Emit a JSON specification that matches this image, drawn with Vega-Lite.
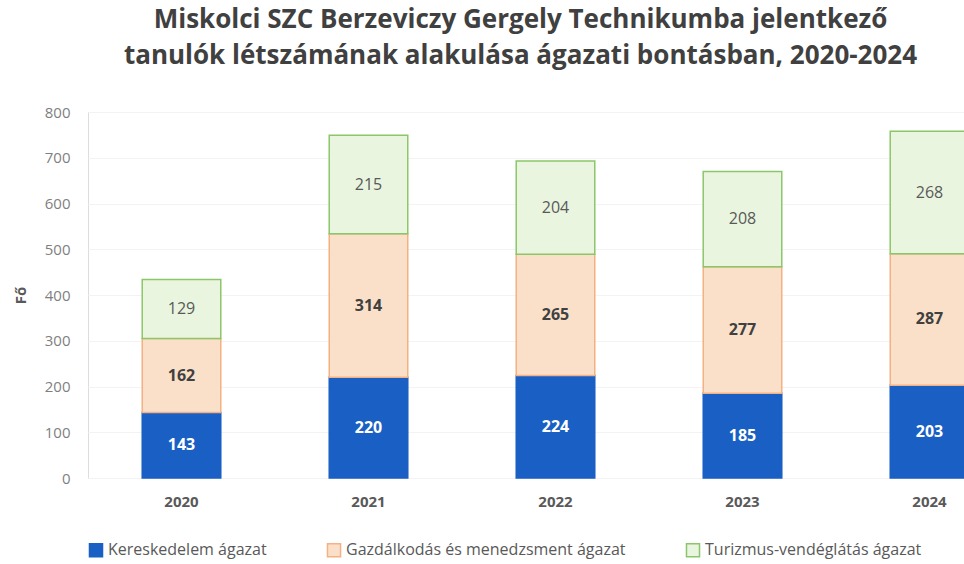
{
  "$schema": "https://vega.github.io/schema/vega-lite/v6.json",
  "width": 935,
  "height": 366,
  "autosize": {"type": "none"},
  "padding": {"left": 88, "top": 112, "right": 0, "bottom": 86},
  "background": "white",
  "title": {
    "text": ["Miskolci SZC Berzeviczy Gergely Technikumba jelentkező", "tanulók létszámának alakulása ágazati bontásban, 2020-2024"],
    "font": "Open Sans",
    "fontSize": 26,
    "fontWeight": "bold",
    "color": "#404040",
    "anchor": "middle",
    "dx": -35,
    "lineHeight": 36,
    "offset": 36
  },
  "data": {
    "values": [
      {"year": "2020", "sector": "Kereskedelem ágazat", "k": 1, "value": 143},
      {"year": "2020", "sector": "Gazdálkodás és menedzsment ágazat", "k": 2, "value": 162},
      {"year": "2020", "sector": "Turizmus-vendéglátás ágazat", "k": 3, "value": 129},
      {"year": "2021", "sector": "Kereskedelem ágazat", "k": 1, "value": 220},
      {"year": "2021", "sector": "Gazdálkodás és menedzsment ágazat", "k": 2, "value": 314},
      {"year": "2021", "sector": "Turizmus-vendéglátás ágazat", "k": 3, "value": 215},
      {"year": "2022", "sector": "Kereskedelem ágazat", "k": 1, "value": 224},
      {"year": "2022", "sector": "Gazdálkodás és menedzsment ágazat", "k": 2, "value": 265},
      {"year": "2022", "sector": "Turizmus-vendéglátás ágazat", "k": 3, "value": 204},
      {"year": "2023", "sector": "Kereskedelem ágazat", "k": 1, "value": 185},
      {"year": "2023", "sector": "Gazdálkodás és menedzsment ágazat", "k": 2, "value": 277},
      {"year": "2023", "sector": "Turizmus-vendéglátás ágazat", "k": 3, "value": 208},
      {"year": "2024", "sector": "Kereskedelem ágazat", "k": 1, "value": 203},
      {"year": "2024", "sector": "Gazdálkodás és menedzsment ágazat", "k": 2, "value": 287},
      {"year": "2024", "sector": "Turizmus-vendéglátás ágazat", "k": 3, "value": 268}
    ]
  },
  "encoding": {
    "x": {
      "field": "year",
      "type": "nominal",
      "scale": {"paddingInner": 0.58, "paddingOuter": 0.29},
      "axis": {
        "title": null,
        "labelAngle": 0,
        "labelFont": "Open Sans",
        "labelFontSize": 15,
        "labelFontWeight": "bold",
        "labelColor": "#595959",
        "labelPadding": 16,
        "domain": false,
        "ticks": false
      }
    },
    "y": {
      "field": "value",
      "type": "quantitative",
      "stack": "zero",
      "scale": {"domain": [0, 800]},
      "axis": {
        "title": "Fő",
        "titleFont": "Open Sans",
        "titleFontSize": 15,
        "titleFontWeight": "bold",
        "titleColor": "#595959",
        "titlePadding": 16,
        "values": [0, 100, 200, 300, 400, 500, 600, 700, 800],
        "labelFont": "Open Sans",
        "labelFontSize": 15,
        "labelColor": "#7f7f7f",
        "labelPadding": 18,
        "domain": false,
        "ticks": false,
        "grid": true,
        "gridColor": "#f3f3f3"
      }
    },
    "order": {"field": "k", "type": "quantitative"}
  },
  "layer": [
    {
      "mark": {"type": "bar", "strokeWidth": 1.5},
      "encoding": {
        "fill": {
          "field": "sector",
          "type": "nominal",
          "scale": {
            "domain": ["Kereskedelem ágazat", "Gazdálkodás és menedzsment ágazat", "Turizmus-vendéglátás ágazat"],
            "range": ["#1a5fc4", "#fbe0c9", "#eaf5df"]
          },
          "legend": {
            "title": null,
            "orient": "none",
            "direction": "horizontal",
            "legendX": 0,
            "legendY": 430,
            "symbolType": "square",
            "symbolSize": 170,
            "symbolStrokeWidth": 1.5,
            "labelFont": "Open Sans",
            "labelFontSize": 16,
            "labelColor": "#595959",
            "labelLimit": 600,
            "columnPadding": 57,
            "labelOffset": 4
          }
        },
        "stroke": {
          "field": "sector",
          "type": "nominal",
          "scale": {
            "domain": ["Kereskedelem ágazat", "Gazdálkodás és menedzsment ágazat", "Turizmus-vendéglátás ágazat"],
            "range": ["#1a5fc4", "#f4b183", "#8cc66a"]
          },
          "legend": null
        }
      }
    },
    {
      "mark": {"type": "text", "font": "Open Sans", "fontSize": 16, "fontWeight": "bold"},
      "encoding": {
        "y": {"field": "value", "type": "quantitative", "stack": "zero", "bandPosition": 0.5},
        "text": {
          "condition": {"test": "datum.sector !== 'Turizmus-vendéglátás ágazat'", "field": "value", "type": "quantitative"},
          "value": ""
        },
        "color": {
          "condition": {"test": "datum.sector === 'Kereskedelem ágazat'", "value": "white"},
          "value": "#404040"
        }
      }
    },
    {
      "mark": {"type": "text", "font": "Open Sans", "fontSize": 16, "color": "#595959"},
      "encoding": {
        "y": {"field": "value", "type": "quantitative", "stack": "zero", "bandPosition": 0.5},
        "text": {
          "condition": {"test": "datum.sector === 'Turizmus-vendéglátás ágazat'", "field": "value", "type": "quantitative"},
          "value": ""
        }
      }
    }
  ]
}
